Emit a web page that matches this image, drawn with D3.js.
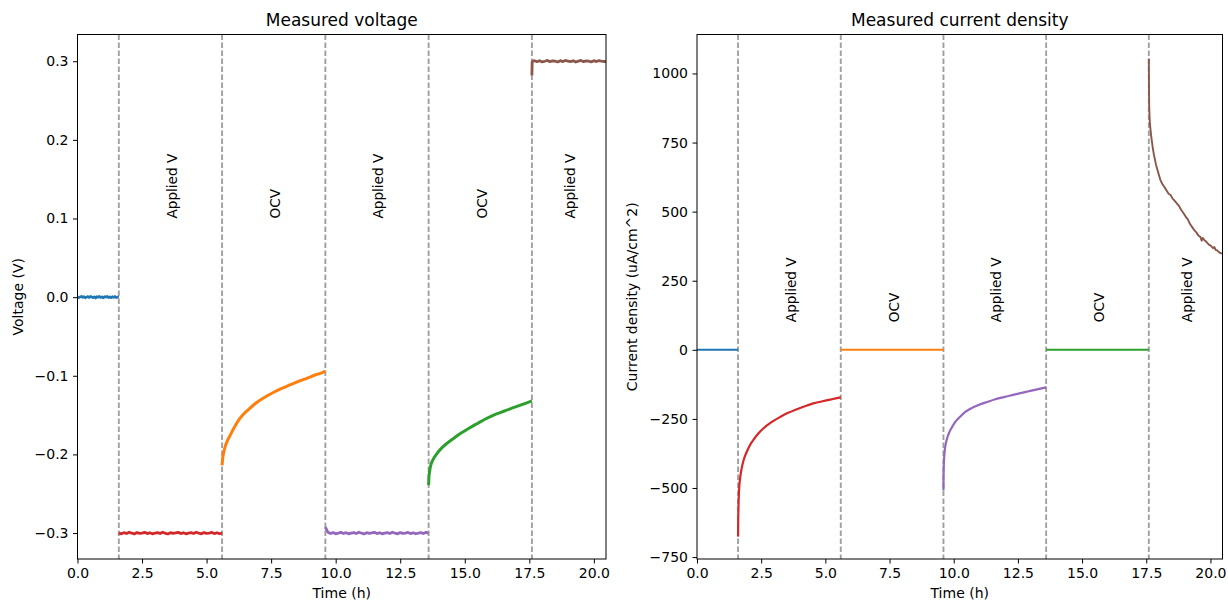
<!DOCTYPE html>
<html><head><meta charset="utf-8">
<script src="https://cdn.jsdelivr.net/npm/d3@7"></script>
<style>
body{margin:0;background:#fff;}
text{font-family:"DejaVu Sans",sans-serif;fill:#000;}
</style></head>
<body><svg id="c" width="1228" height="602"></svg>
<script>
// ---------- data ----------
const xTicks = [0, 2.5, 5, 7.5, 10, 12.5, 15, 17.5, 20];
const vTicks = [-0.3, -0.2, -0.1, 0.0, 0.1, 0.2, 0.3];
const jTicks = [-750, -500, -250, 0, 250, 500, 750, 1000];
const switchTimes = [1.6, 5.6, 9.6, 13.6, 17.6];
const phaseLabels = ["Applied V", "OCV", "Applied V", "OCV", "Applied V"];
const phaseCenters = [3.6, 7.6, 11.6, 15.6, 19.03];

// noisy flat voltage segments: [start time, step] + values
const vBlueGrid = [0, 0.05];
const vBlueVals = [0.0005,-0.0008,0.0003,0.0010,-0.0004,0.0006,-0.0010,0.0000,0.0008,-0.0006,0.0011,0.0002,-0.0007,0.0005,-0.0011,0.0006,-0.0002,0.0009,-0.0005,0.0003,-0.0009,0.0007,-0.0001,0.0010,-0.0006,0.0004,-0.0008,0.0006,-0.0003,0.0009,-0.0007,0.0001,0.0000];
const vRedGrid = [1.6, 0.1];
const vRedVals = [-0.3000,-0.3010,-0.2995,-0.3006,-0.2990,-0.3002,-0.3011,-0.2994,-0.3005,-0.3000,-0.2991,-0.3007,-0.2996,-0.3010,-0.3001,-0.2994,-0.3006,-0.2990,-0.3003,-0.3011,-0.2995,-0.3005,-0.2999,-0.2991,-0.3007,-0.2996,-0.3010,-0.3000,-0.2995,-0.3006,-0.2990,-0.3002,-0.3010,-0.2994,-0.3005,-0.3000,-0.2992,-0.3007,-0.2996,-0.3009,-0.3000];
const vPurpleGrid = [9.6, 0.1];
const vPurpleVals = [-0.2925,-0.2990,-0.3006,-0.2994,-0.3010,-0.3000,-0.2991,-0.3006,-0.2995,-0.3010,-0.3001,-0.2994,-0.3006,-0.2990,-0.3002,-0.3011,-0.2995,-0.3005,-0.2999,-0.2991,-0.3007,-0.2996,-0.3010,-0.3000,-0.2995,-0.3006,-0.2990,-0.3002,-0.3010,-0.2994,-0.3005,-0.3000,-0.2992,-0.3007,-0.2996,-0.3009,-0.3000,-0.2994,-0.3006,-0.2991,-0.3000];
const vBrownGrid = [17.7, 0.1];
const vBrownVals = [0.3006,0.2994,0.3007,0.2991,0.3000,0.3010,0.2995,0.3006,0.3000,0.2991,0.3007,0.2996,0.3010,0.3000,0.2995,0.3006,0.2990,0.3002,0.3010,0.2994,0.3005,0.3000,0.2992,0.3007,0.2996,0.3009,0.3000,0.2995];
const vBrownLead = [[17.6, 0.282], [17.61, 0.299], [17.65, 0.3005]];
const vBrownTail = [[20.47, 0.300]];

// OCV recoveries
const vOrange = [[5.6,-0.214],[5.62,-0.206],[5.66,-0.198],[5.72,-0.190],[5.8,-0.183],[5.91,-0.176],[6.05,-0.167],[6.23,-0.157],[6.4,-0.150],[6.62,-0.143],[6.9,-0.135],[7.27,-0.127],[7.6,-0.121],[7.91,-0.116],[8.2,-0.112],[8.56,-0.107],[8.9,-0.103],[9.2,-0.099],[9.4,-0.097],[9.6,-0.094]];
const vGreen = [[13.6,-0.239],[13.61,-0.230],[13.64,-0.221],[13.69,-0.213],[13.78,-0.206],[13.92,-0.199],[14.1,-0.192],[14.31,-0.186],[14.55,-0.180],[14.83,-0.1735],[15.15,-0.167],[15.47,-0.161],[15.8,-0.155],[16.12,-0.150],[16.45,-0.146],[16.76,-0.142],[17.1,-0.138],[17.35,-0.135],[17.6,-0.132]];

// current density (uA/cm^2)
const jBlue = [[0, 0], [1.6, 0]];
const jOrange = [[5.6, 0], [9.6, 0]];
const jGreen = [[13.6, 0], [17.6, 0]];
const jRed = [[1.6,-676],[1.605,-620],[1.615,-570],[1.635,-514],[1.675,-468],[1.74,-429],[1.83,-395],[1.94,-369],[2.05,-347],[2.19,-327],[2.38,-304],[2.58,-285],[2.9,-262],[3.24,-243],[3.55,-228],[3.89,-215],[4.2,-204],[4.53,-194],[4.85,-187],[5.19,-180],[5.4,-176],[5.6,-172]];
const jPurple = [[9.6,-508],[9.603,-470],[9.61,-429],[9.625,-395],[9.65,-365],[9.69,-340],[9.75,-318],[9.83,-298],[9.94,-279],[10.06,-261],[10.25,-242],[10.45,-225],[10.7,-211],[10.97,-200],[11.3,-189],[11.62,-179],[11.95,-171],[12.27,-164],[12.6,-157],[12.92,-150],[13.25,-143],[13.6,-136]];
const jBrown = [[17.6,1053],[17.605,960],[17.615,878],[17.64,820],[17.69,775],[17.74,740],[17.79,710],[17.88,670],[17.98,637],[18.05,615],[18.12,601],[18.2,590],[18.28,578],[18.37,565],[18.45,560],[18.52,548],[18.6,540],[18.7,529],[18.78,520],[18.85,508],[18.96,493],[19.05,480],[19.12,472],[19.2,456],[19.29,444],[19.38,432],[19.45,425],[19.53,414],[19.61,408],[19.66,395],[19.7,405],[19.75,398],[19.85,390],[19.95,380],[20.0,378],[20.1,368],[20.15,372],[20.2,362],[20.26,360],[20.35,352],[20.45,348]];

const colors = {blue:"#1f77b4", orange:"#ff7f0e", green:"#2ca02c", red:"#d62728", purple:"#9467bd", brown:"#8c564b"};

// ---------- helpers ----------
const grid = (g, vals) => vals.map((v, i) => [g[0] + i * g[1], v]);
const svg = d3.select("#c");
const plotTop = 34.5, plotBottom = 559;
const fmt1 = d => d3.format(".1f")(d).replace("-", "\u2212");
const fmtInt = d => String(d).replace("-", "\u2212");
const FS = 14;

function panel(o) {
  const x = d3.scaleLinear().domain([0, 20.47]).range([o.left, o.right]);
  const y = d3.scaleLinear().domain(o.yDomain).range([plotBottom, plotTop]);
  const g = svg.append("g");
  const clipId = "clip" + o.id;
  svg.append("clipPath").attr("id", clipId).append("rect")
    .attr("x", o.left).attr("y", plotTop).attr("width", o.right - o.left).attr("height", plotBottom - plotTop);

  // phase separators
  g.append("g").selectAll("line").data(switchTimes).join("line")
    .attr("x1", d => x(d)).attr("x2", d => x(d)).attr("y1", plotTop).attr("y2", plotBottom)
    .attr("stroke", "#a0a0a0").attr("stroke-width", 1.9).attr("stroke-dasharray", "5.6,2.4");

  // series
  const lg = g.append("g").attr("clip-path", `url(#${clipId})`);
  o.series.forEach(s => {
    const line = d3.line().x(d => x(d[0])).y(d => y(d[1])).curve(s.smooth ? d3.curveMonotoneX : d3.curveLinear);
    lg.append("path").datum(s.data).attr("d", line).attr("fill", "none")
      .attr("stroke", s.color).attr("stroke-width", s.w).attr("stroke-linejoin", "round");
  });

  // phase labels
  g.append("g").selectAll("text").data(phaseLabels).join("text")
    .attr("transform", (d, i) => `translate(${x(phaseCenters[i]) + 1.5},${y(o.labelY)}) rotate(-90)`)
    .attr("text-anchor", "start").attr("dominant-baseline", "central")
    .attr("font-size", 13.6).text(d => d);

  // axes
  const xa = g.append("g").attr("transform", `translate(0,${plotBottom})`)
    .call(d3.axisBottom(x).tickValues(xTicks).tickFormat(fmt1).tickSize(4.5).tickPadding(5));
  const ya = g.append("g").attr("transform", `translate(${o.left},0)`)
    .call(d3.axisLeft(y).tickValues(o.yTicks).tickFormat(o.fmt).tickSize(4.5).tickPadding(4.5));
  [xa, ya].forEach(a => {
    a.select(".domain").remove();
    a.selectAll("text").attr("font-size", FS).attr("font-family", "DejaVu Sans").attr("fill", "#000");
    a.selectAll("line").attr("stroke", "#000").attr("stroke-width", 1);
  });
  // frame
  g.append("rect").attr("x", o.left).attr("y", plotTop).attr("width", o.right - o.left).attr("height", plotBottom - plotTop)
    .attr("fill", "none").attr("stroke", "#000").attr("stroke-width", 1);

  // titles
  g.append("text").attr("x", (o.left + o.right) / 2).attr("y", 26).attr("text-anchor", "middle")
    .attr("font-size", 17).text(o.title);
  g.append("text").attr("x", (o.left + o.right) / 2).attr("y", 597.5).attr("text-anchor", "middle")
    .attr("font-size", FS).text("Time (h)");
  g.append("text").attr("transform", `translate(${o.yLabelX},${(plotTop + plotBottom) / 2}) rotate(-90)`)
    .attr("text-anchor", "middle").attr("font-size", FS).text(o.yLabel);
}

panel({
  id: "v", left: 77.5, right: 606, yDomain: [-0.333, 0.334], yTicks: vTicks, fmt: fmt1,
  title: "Measured voltage", yLabel: "Voltage (V)", yLabelX: 23, labelY: 0.1,
  series: [
    {data: grid(vBlueGrid, vBlueVals), color: colors.blue, w: 2.6},
    {data: grid(vRedGrid, vRedVals), color: colors.red, w: 2.8},
    {data: vOrange, color: colors.orange, w: 3.0, smooth: true},
    {data: grid(vPurpleGrid, vPurpleVals), color: colors.purple, w: 2.8},
    {data: vGreen, color: colors.green, w: 3.0, smooth: true},
    {data: vBrownLead.concat(grid(vBrownGrid, vBrownVals), vBrownTail), color: colors.brown, w: 2.8}
  ]
});

panel({
  id: "j", left: 697, right: 1222.5, yDomain: [-757, 1141], yTicks: jTicks, fmt: fmtInt,
  title: "Measured current density", yLabel: "Current density (uA/cm^2)", yLabelX: 637, labelY: 100,
  series: [
    {data: jBlue, color: colors.blue, w: 1.9},
    {data: jRed, color: colors.red, w: 2.2, smooth: true},
    {data: jOrange, color: colors.orange, w: 1.9},
    {data: jPurple, color: colors.purple, w: 2.2, smooth: true},
    {data: jGreen, color: colors.green, w: 1.9},
    {data: jBrown, color: colors.brown, w: 1.9}
  ]
});
</script></body></html>
